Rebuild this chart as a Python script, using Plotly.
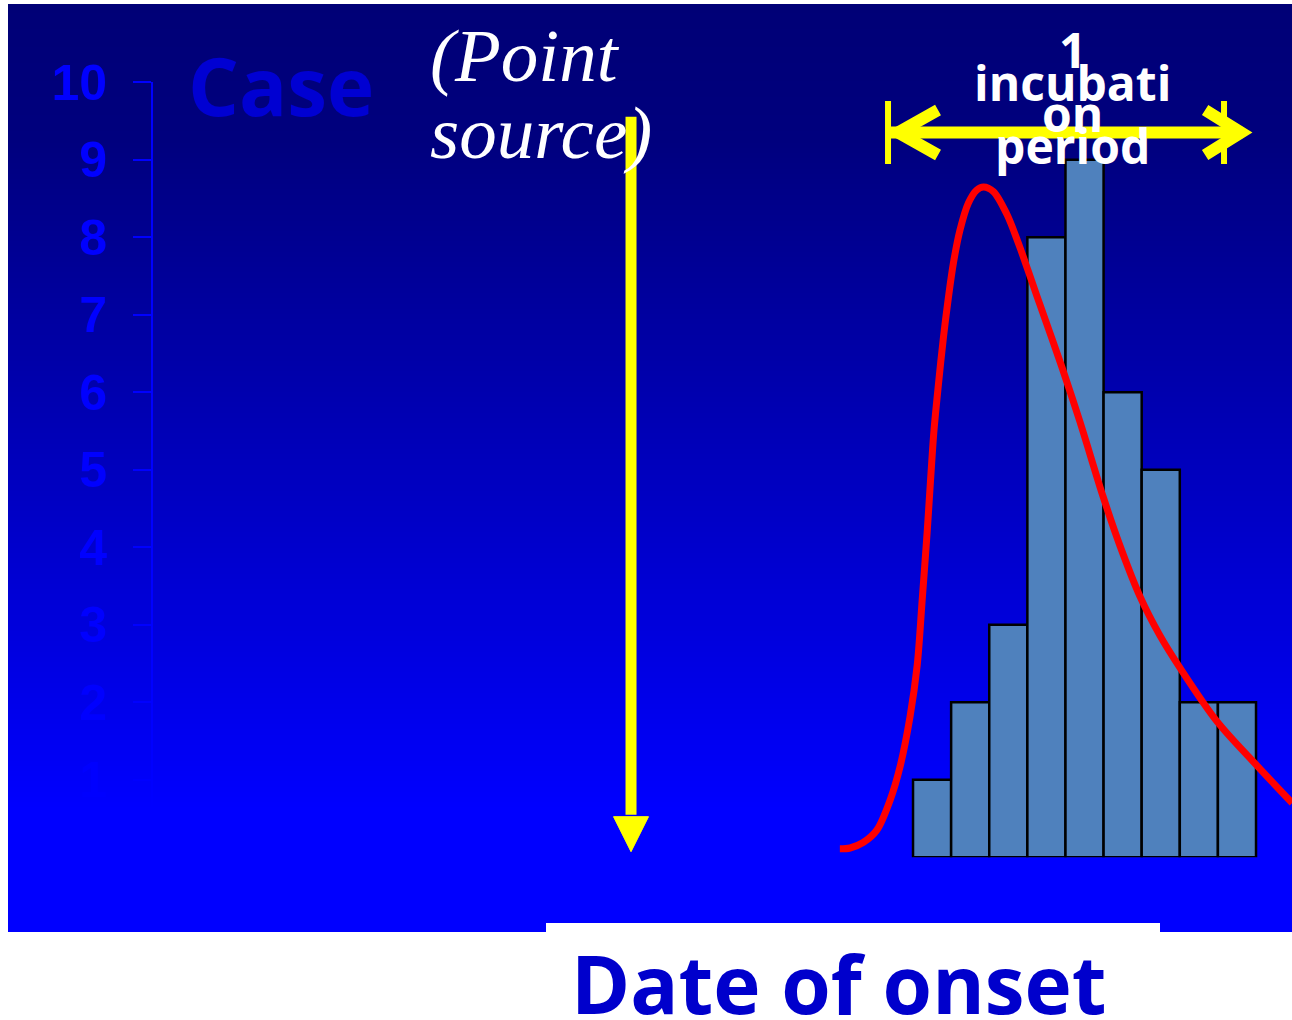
import base64
import struct
import zlib

import plotly.graph_objects as go

# ---- data -------------------------------------------------------------
onset_day = [1, 2, 3, 4, 5, 6, 7, 8, 9]
cases = [1, 2, 3, 8, 9, 6, 5, 2, 2]

# expected epidemic curve for a point-source exposure (day, cases)
curve_day = [-1.42, -1.15, -0.81, -0.45, -0.10, 0.16, 0.42, 0.61, 0.74, 0.87,
             0.96, 1.05, 1.16, 1.30, 1.43, 1.56, 1.73, 1.95, 2.17, 2.35,
             2.61, 2.96, 3.26, 3.52, 3.83, 4.41, 4.88, 5.49, 5.93, 6.46,
             6.98, 7.51, 8.48, 9.53, 10.45]
curve_cases = [0.11, 0.12, 0.19, 0.35, 0.74, 1.17, 1.81, 2.48, 3.32, 4.19,
               4.87, 5.51, 6.07, 6.72, 7.23, 7.67, 8.09, 8.44, 8.61, 8.65,
               8.59, 8.30, 7.93, 7.57, 7.13, 6.32, 5.62, 4.65, 4.02, 3.36,
               2.86, 2.44, 1.75, 1.18, 0.70]

y_ticks = [1, 2, 3, 4, 5, 6, 7, 8, 9, 10]
y_tick_labels = ["1", "2", "3", "4", "5", "6", "7", "8", "9", "10"]

exposure_day = -6.90          # day of the common exposure
incubation_start = -0.13      # span of one incubation period
incubation_end = 9.45

# ---- geometry ---------------------------------------------------------
W, H = 1292, 1020
ML, MR, MT, MB = 8, 0, 4, 88
PW, PH = W - ML - MR, H - MT - MB

X_RANGE = [-19.443, 10.444]
X_DOMAIN = [145 / PW, 1.0]
Y_RANGE = [0, 10]
Y_DOMAIN = [0.0805, 0.91562]

px_per_day = PW * (X_DOMAIN[1] - X_DOMAIN[0]) / (X_RANGE[1] - X_RANGE[0])
px_per_case = PH * (Y_DOMAIN[1] - Y_DOMAIN[0]) / (Y_RANGE[1] - Y_RANGE[0])


def dx(px):
    return px / px_per_day


def dy(px):
    return px / px_per_case


def paper_x(px):
    return (px - ML) / PW


def paper_y(py):
    return (H - MB - py) / PH


def gradient_png(rows):
    """1-pixel-wide PNG, one RGB row per entry, as a data URI."""
    raw = b"".join(b"\x00" + bytes(rgb) for rgb in rows)

    def chunk(tag, data):
        body = tag + data
        return struct.pack(">I", len(data)) + body + struct.pack(">I", zlib.crc32(body) & 0xFFFFFFFF)

    png = (b"\x89PNG\r\n\x1a\n"
           + chunk(b"IHDR", struct.pack(">IIBBBBB", 1, len(rows), 8, 2, 0, 0, 0))
           + chunk(b"IDAT", zlib.compress(raw, 9))
           + chunk(b"IEND", b""))
    return "data:image/png;base64," + base64.b64encode(png).decode()


def slide_blue(py):
    if py <= 140:
        b = 118 + (py - MT) * 8 / 136
    elif py >= 810:
        b = 255
    else:
        b = 126 + (py - 140) * (255 - 126) / (810 - 140)
    return (0, 0, int(round(b)))


background = gradient_png([slide_blue(MT + i + 0.5) for i in range(PH)])

YELLOW = "#FFFF00"
shapes = []

# white strip under the x-axis caption
shapes.append(dict(type="rect", xref="paper", yref="paper", layer="below",
                   x0=paper_x(546), x1=paper_x(1160), y0=0, y1=paper_y(923),
                   fillcolor="white", line_width=0))

# exposure arrow (vertical, pointing down)
arrow_top = 9.556
head_base = 0.524
head_tip = 0.072
shapes.append(dict(type="line", xref="x", yref="y", layer="above",
                   x0=exposure_day, x1=exposure_day, y0=arrow_top, y1=head_base + dy(2),
                   line=dict(color=YELLOW, width=11)))
hw = dx(17.5)
shapes.append(dict(type="path", xref="x", yref="y", layer="above",
                   path=(f"M {exposure_day - hw},{head_base} L {exposure_day + hw},{head_base} "
                         f"L {exposure_day},{head_tip} Z"),
                   fillcolor=YELLOW, line=dict(color=YELLOW, width=1)))

# incubation-period double arrow
y_arr = 9.352
shapes.append(dict(type="line", xref="x", yref="y", layer="above",
                   x0=incubation_start, x1=incubation_end - dx(12), y0=y_arr, y1=y_arr,
                   line=dict(color=YELLOW, width=12)))
for xb in (incubation_start - dx(1), incubation_start + dx(335)):
    shapes.append(dict(type="line", xref="x", yref="y", layer="above",
                       x0=xb, x1=xb, y0=y_arr - dy(31.5), y1=y_arr + dy(31.5),
                       line=dict(color=YELLOW, width=6)))
# chevrons
lv = incubation_start + dx(9)
shapes.append(dict(type="path", xref="x", yref="y", layer="above",
                   path=(f"M {lv + dx(40)},{y_arr + dy(22.5)} L {lv},{y_arr} "
                         f"L {lv + dx(40)},{y_arr - dy(22.5)}"),
                   line=dict(color=YELLOW, width=12)))
rv = incubation_end - dx(13)
shapes.append(dict(type="path", xref="x", yref="y", layer="above",
                   path=(f"M {rv - dx(36)},{y_arr + dy(22.5)} L {rv},{y_arr} "
                         f"L {rv - dx(36)},{y_arr - dy(22.5)}"),
                   line=dict(color=YELLOW, width=12)))

# ---- traces -----------------------------------------------------------
fig = go.Figure()
fig.add_trace(go.Bar(
    x=onset_day, y=cases, width=1,
    marker=dict(color="#4F81BD", line=dict(color="#000000", width=2.5)),
    hoverinfo="skip", showlegend=False,
))
fig.add_trace(go.Scatter(
    x=curve_day, y=curve_cases, mode="lines",
    line=dict(color="#FF0000", width=7, shape="spline", smoothing=0.9),
    hoverinfo="skip", showlegend=False,
))

# ---- text -------------------------------------------------------------
sans = "Open Sans"
annotations = [
    dict(text="Case", x=paper_x(186), y=paper_y(85), xanchor="left", yanchor="middle",
         font=dict(family=sans, size=80, color="#0000D2", weight="bold")),
    dict(text="Date of onset", x=paper_x(838), y=paper_y(982), xanchor="center",
         yanchor="middle", font=dict(family=sans, size=80, color="#0000CC", weight="bold")),
    dict(text="(Point", x=paper_x(428), y=paper_y(56), xanchor="left", yanchor="middle",
         font=dict(family="Liberation Serif", size=75, color="white", style="italic")),
    dict(text="source)", x=paper_x(428), y=paper_y(132), xanchor="left", yanchor="middle",
         font=dict(family="Liberation Serif", size=75, color="white", style="italic")),
]
for txt, base in (("1", 69), ("incubati", 101), ("on", 133), ("period", 164)):
    annotations.append(dict(text=txt, x=paper_x(1072), y=paper_y(base - 19),
                            xanchor="center", yanchor="middle",
                            font=dict(family=sans, size=48, color="white", weight="bold")))
for a in annotations:
    a.update(xref="paper", yref="paper", showarrow=False)

AXIS_BLUE = "#0000FF"
fig.update_layout(
    width=W, height=H,
    margin=dict(l=ML, r=MR, t=MT, b=MB, pad=0, autoexpand=False),
    paper_bgcolor="white",
    plot_bgcolor="rgba(0,0,0,0)",
    bargap=0,
    showlegend=False,
    hovermode=False,
    shapes=shapes,
    annotations=annotations,
    images=[dict(source=background, xref="paper", yref="paper", x=0, y=1,
                 sizex=1, sizey=1, xanchor="left", yanchor="top",
                 sizing="stretch", layer="below")],
    xaxis=dict(domain=X_DOMAIN, range=X_RANGE, visible=False, fixedrange=True,
               automargin=False),
    yaxis=dict(
        domain=Y_DOMAIN, range=Y_RANGE, fixedrange=True, automargin=False,
        showgrid=False, zeroline=False,
        showline=True, linecolor=AXIS_BLUE, linewidth=2,
        ticks="outside", ticklen=18, tickwidth=2, tickcolor=AXIS_BLUE,
        tickvals=y_ticks, ticktext=y_tick_labels,
        ticklabelstandoff=16,
        tickfont=dict(family="Liberation Sans", size=50, color=AXIS_BLUE, weight="bold"),
    ),
)

fig.write_html("out.html", config={"displayModeBar": False, "staticPlot": True})
